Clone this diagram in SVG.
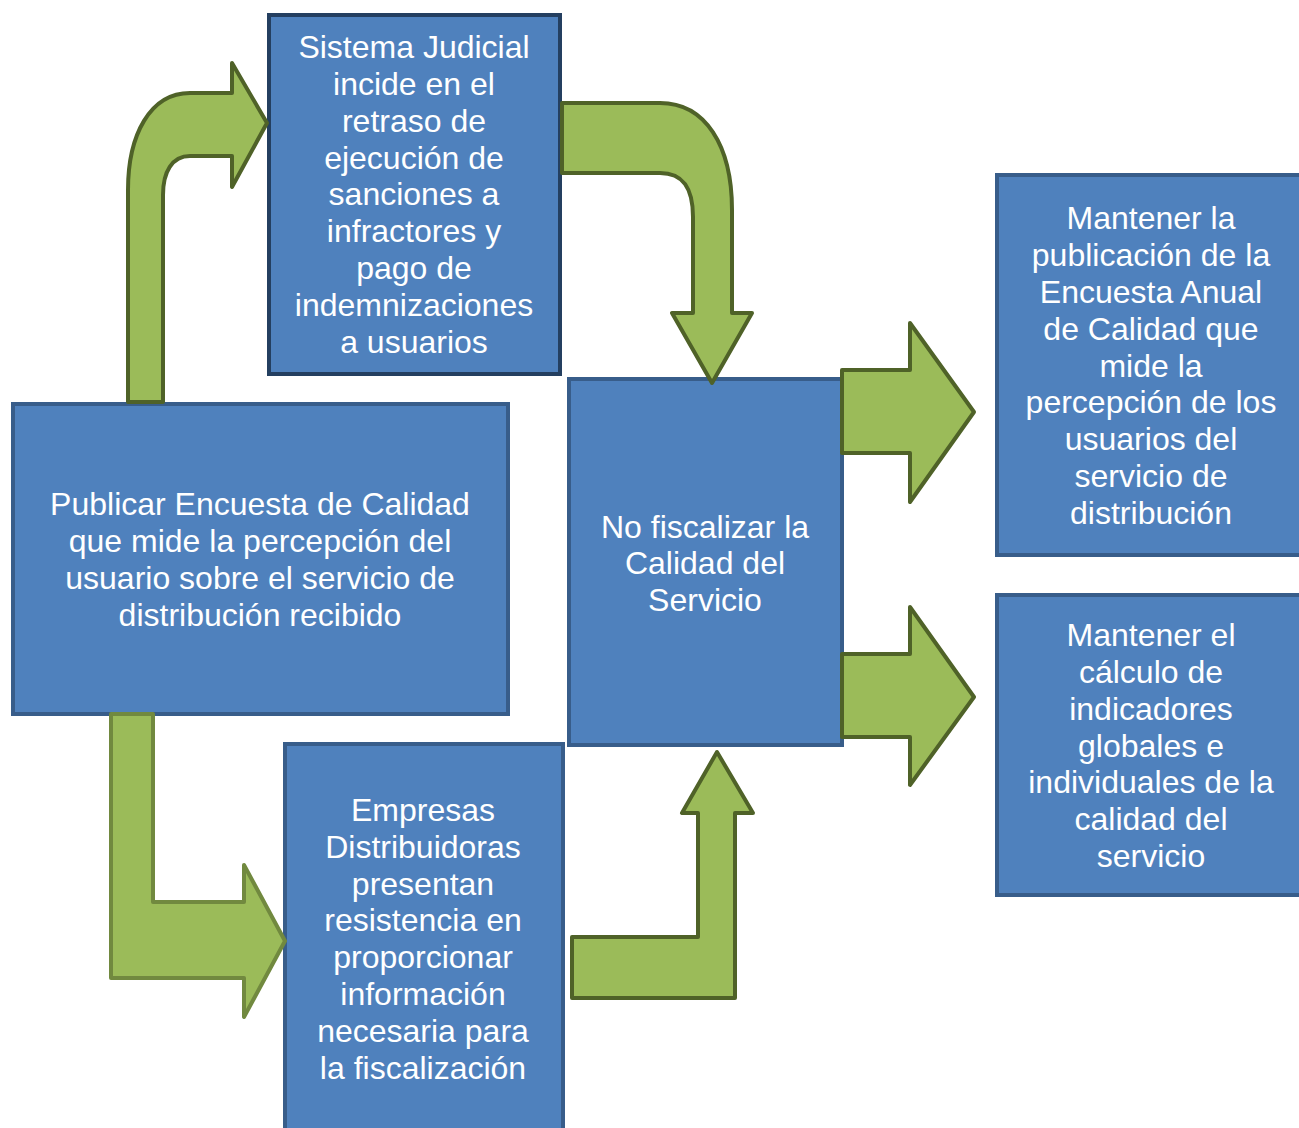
<svg xmlns="http://www.w3.org/2000/svg" width="1299" height="1128" viewBox="0 0 1299 1128">
<style>
.box{fill:#4F81BD;stroke:#385D8A;stroke-width:4}
.dark{stroke:#243F60}
.arr{fill:#9BBB59;stroke:#4F6228;stroke-width:4;stroke-linejoin:round}
.light{stroke:#71893F}
text{font-family:"Liberation Sans",Arial,sans-serif;font-size:32px;fill:#FFFFFF;text-anchor:middle}
</style>
<rect width="1299" height="1128" fill="#FFFFFF"/>
<g id="n-publicar">
<rect class="box" x="13" y="404" width="495" height="310"/>
<text x="260" y="515">Publicar Encuesta de Calidad</text>
<text x="260" y="552">que mide la percepción del</text>
<text x="260" y="589">usuario sobre el servicio de</text>
<text x="260" y="626">distribución recibido</text>
</g>
<g id="n-judicial">
<rect class="box dark" x="269" y="15" width="291" height="359"/>
<text x="414" y="58">Sistema Judicial</text>
<text x="414" y="95">incide en el</text>
<text x="414" y="132">retraso de</text>
<text x="414" y="169">ejecución de</text>
<text x="414" y="205">sanciones a</text>
<text x="414" y="242">infractores y</text>
<text x="414" y="279">pago de</text>
<text x="414" y="316">indemnizaciones</text>
<text x="414" y="353">a usuarios</text>
</g>
<g id="n-nofiscalizar">
<rect class="box" x="569" y="379" width="273" height="366"/>
<text x="705" y="538">No fiscalizar la</text>
<text x="705" y="574">Calidad del</text>
<text x="705" y="611">Servicio</text>
</g>
<g id="n-empresas">
<rect class="box" x="285" y="744" width="278" height="400"/>
<text x="423" y="821">Empresas</text>
<text x="423" y="858">Distribuidoras</text>
<text x="423" y="895">presentan</text>
<text x="423" y="931">resistencia en</text>
<text x="423" y="968">proporcionar</text>
<text x="423" y="1005">información</text>
<text x="423" y="1042">necesaria para</text>
<text x="423" y="1079">la fiscalización</text>
</g>
<g id="n-mantener-encuesta">
<rect class="box" x="997" y="175" width="320" height="380"/>
<text x="1151" y="229">Mantener la</text>
<text x="1151" y="266">publicación de la</text>
<text x="1151" y="303">Encuesta Anual</text>
<text x="1151" y="340">de Calidad que</text>
<text x="1151" y="377">mide la</text>
<text x="1151" y="413">percepción de los</text>
<text x="1151" y="450">usuarios del</text>
<text x="1151" y="487">servicio de</text>
<text x="1151" y="524">distribución</text>
</g>
<g id="n-mantener-indicadores">
<rect class="box" x="997" y="595" width="320" height="300"/>
<text x="1151" y="646">Mantener el</text>
<text x="1151" y="683">cálculo de</text>
<text x="1151" y="720">indicadores</text>
<text x="1151" y="757">globales e</text>
<text x="1151" y="793">individuales de la</text>
<text x="1151" y="830">calidad del</text>
<text x="1151" y="867">servicio</text>
</g>
<g id="connectors">
<path class="arr" d="M128,402 L128,190 C128,135 150,93 190,93 L232,93 L232,63 L267,123 L232,187 L232,156 L190,156 C172,156 163,172 163,195 L163,402 Z"/>
<path class="arr" d="M562,103 L660,103 C705,103 732,145 732,210 L732,313 L752,313 L712,383 L672,313 L693,313 L693,217 C693,188 683,173 660,173 L562,173 Z"/>
<path class="arr light" d="M111,714 L153,714 L153,902 L244,902 L244,865 L285,941 L244,1017 L244,978 L111,978 Z"/>
<path class="arr" d="M572,998 L735,998 L735,813 L753,813 L717,752 L682,813 L698,813 L698,937 L572,937 Z"/>
<path class="arr" d="M842,370 L910,370 L910,323 L974,412 L910,502 L910,453 L842,453 Z"/>
<path class="arr" d="M842,654 L910,654 L910,607 L974,697 L910,785 L910,737 L842,737 Z"/>
</g>
</svg>
